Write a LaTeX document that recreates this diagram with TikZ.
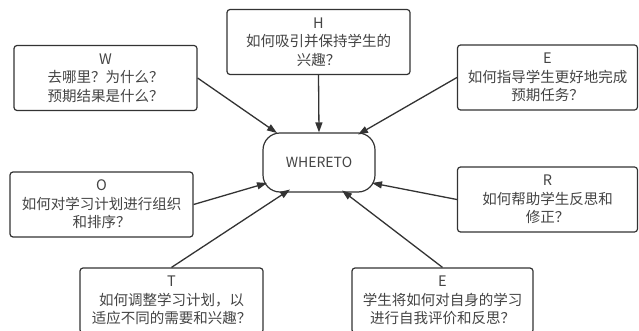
\documentclass[tikz,border=0pt]{standalone}
\usepackage{fontspec}
\setmainfont{Noto Sans CJK SC}
\usetikzlibrary{arrows.meta,calc}
\definecolor{txt}{HTML}{444444}
\definecolor{ln}{HTML}{333333}
\begin{document}
\begin{tikzpicture}[x=1pt,y=-1pt,
  box/.style={draw=ln,line width=1.2pt,rounded corners=3pt,minimum width=183pt,minimum height=65pt,
    inner sep=0pt,align=center,text=txt,font=\fontsize{14.5pt}{18.5pt}\selectfont},
  hub/.style={draw=ln,line width=1.2pt,rounded corners=17pt,minimum width=112pt,minimum height=59pt,
    inner sep=0pt,align=center,text=txt,font=\fontsize{14pt}{18pt}\selectfont},
  arr/.style={draw=ln,line width=1.3pt,-{Triangle[length=10pt,width=7pt]}}]
\useasboundingbox (0,0) rectangle (639,331);
\fill[white] (0,0) rectangle (639,331);
\clip (0,0) rectangle (639,331);
\node[hub] (C) at (319,162.5) {WHERETO};
\node[box] (W) at (105.5,78) {W\\去哪里？为什么？\\预期结果是什么？};
\node[box] (H) at (318.5,42) {H\\如何吸引并保持学生的\\兴趣？};
\node[box,minimum width=180pt] (E1) at (547.5,77.5) {E\\如何指导学生更好地完成\\预期任务？};
\node[box] (O) at (101.5,204.5) {O\\如何对学习计划进行组织\\和排序？};
\node[box] (T) at (171.5,300.5) {T\\如何调整学习计划，以\\适应不同的需要和兴趣？};
\node[box,minimum width=180pt] (R) at (547.5,199.5) {R\\如何帮助学生反思和\\修正？};
\node[box,minimum width=181pt] (E2) at (442.5,300.5) {E\\学生将如何对自身的学习\\进行自我评价和反思？};
\draw[arr] (W.east) -- ($(C.center)+(-42,-29.5)$);
\draw[arr] (H.south) -- (C.north);
\draw[arr] (E1.west) -- ($(C.center)+(39,-28)$);
\draw[arr] (O.east) -- ($(C.center)+(-52,20.5)$);
\draw[arr] (T.north) -- ($(C.center)+(-29,27)$);
\draw[arr] (R.west) -- ($(C.center)+(53,20.5)$);
\draw[arr] (E2.north) -- ($(C.center)+(23,28)$);
\end{tikzpicture}
\end{document}
